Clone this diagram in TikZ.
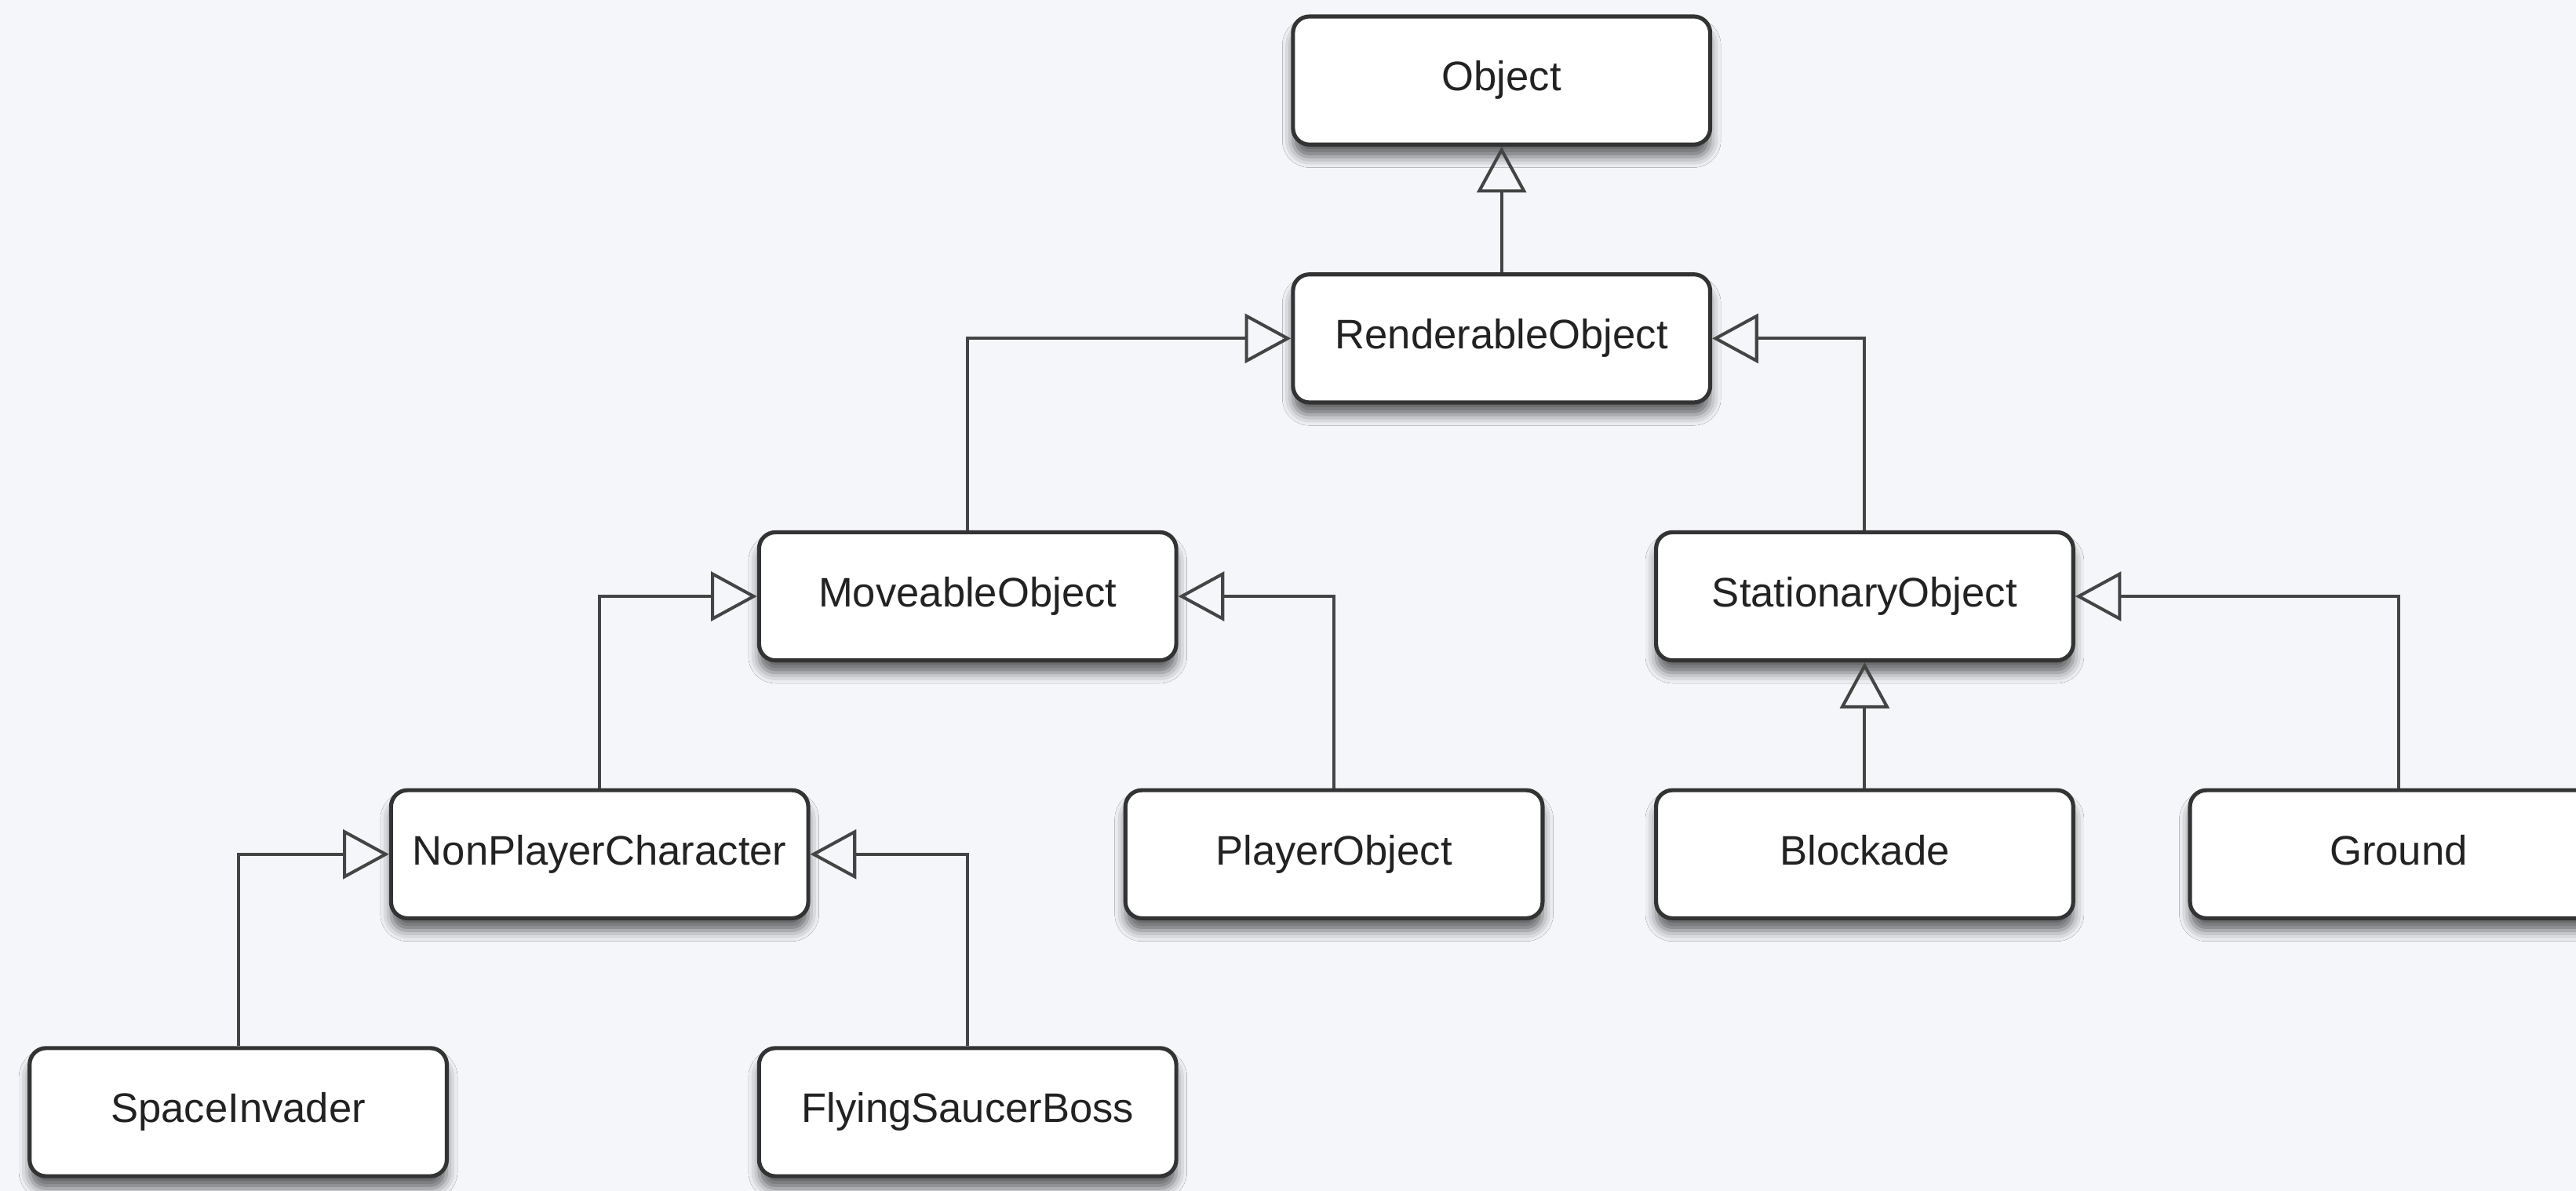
\documentclass[tikz,border=0pt]{standalone}
\usepackage{fontspec}
\setmainfont{Liberation Sans}
\usetikzlibrary{arrows.meta, shadows.blur}
\definecolor{paper}{HTML}{F4F6FA}
\definecolor{ink}{HTML}{222222}
\definecolor{edge}{HTML}{333333}
\definecolor{wire}{HTML}{444444}

\begin{document}
\begin{tikzpicture}[
  x=0.02cm, y=-0.02cm,
  every node/.style={font=\fontsize{14.3}{16}\selectfont, text=ink},
  umlclass/.style={
    draw=edge,
    line width=1.4pt,
    rounded corners=0.2cm,
    minimum width=5.08cm,
    minimum height=1.56cm,
    text height=0.72em,
    text depth=0pt,
    fill=white,
    align=center,
    blur shadow={shadow xshift=0pt, shadow yshift=-0.15cm,
                 shadow blur radius=0.13cm, shadow opacity=60},
  },
  inherit/.style={
    -{Triangle[open, length=0.56cm, width=0.6cm, line width=1.1pt]},
    line width=1.1pt,
    draw=wire,
  },
]
  \fill[paper] (0,0) rectangle (1568,725);
  \useasboundingbox (0,0) rectangle (1568,725);

  % classes
  \node[umlclass] (object) at (914,49) {Object};
  \node[umlclass] (renderable) at (914,206) {RenderableObject};
  \node[umlclass] (moveable) at (589,363) {MoveableObject};
  \node[umlclass] (stationary) at (1135,363) {StationaryObject};
  \node[umlclass] (npc) at (365,520) {NonPlayerCharacter};
  \node[umlclass] (player) at (812,520) {PlayerObject};
  \node[umlclass] (blockade) at (1135,520) {Blockade};
  \node[umlclass] (ground) at (1460,520) {Ground};
  \node[umlclass] (invader) at (145,677) {SpaceInvader};
  \node[umlclass] (boss) at (589,677) {FlyingSaucerBoss};

  % generalisations
  \draw[inherit] (renderable) -- (object);
  \draw[inherit] (moveable.north) |- (renderable.west);
  \draw[inherit] (stationary.north) |- (renderable.east);
  \draw[inherit] (npc.north) |- (moveable.west);
  \draw[inherit] (player.north) |- (moveable.east);
  \draw[inherit] (blockade) -- (stationary);
  \draw[inherit] (ground.north) |- (stationary.east);
  \draw[inherit] (invader.north) |- (npc.west);
  \draw[inherit] (boss.north) |- (npc.east);
\end{tikzpicture}
\end{document}
